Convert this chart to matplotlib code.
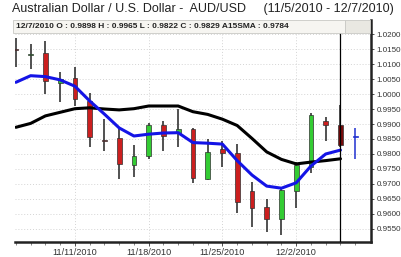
import matplotlib
matplotlib.use("Agg")
import matplotlib.pyplot as plt
from matplotlib.patches import Rectangle

plt.rcParams["font.family"] = ["Liberation Sans", "DejaVu Sans"]

# trading days shown on the chart
dates = ["11/5", "11/8", "11/9", "11/10", "11/11", "11/12", "11/15", "11/16",
         "11/17", "11/18", "11/19", "11/22", "11/23", "11/24", "11/25", "11/26",
         "11/29", "11/30", "12/1", "12/2", "12/3", "12/6", "12/7", "12/8"]
opens = [1.0150, 1.0130, 1.0136, 1.0036, 1.0052, 0.9977, 0.9846, 0.9852,
         0.9763, 0.9793, 0.9897, 0.9871, 0.9882, 0.9716, 0.9816, 0.9802,
         0.9677, 0.9622, 0.9582, 0.9678, 0.9758, 0.9911, 0.9898, 0.9860]
highs = [1.0187, 1.0167, 1.0177, 1.0072, 1.0089, 1.0002, 0.9916, 0.9886,
         0.9830, 0.9904, 0.9911, 0.9950, 0.9888, 0.9849, 0.9844, 0.9833,
         0.9708, 0.9650, 0.9686, 0.9773, 0.9936, 0.9924, 0.9965, 0.9886]
lows = [1.0090, 1.0082, 0.9999, 0.9974, 0.9960, 0.9823, 0.9811, 0.9716,
        0.9722, 0.9782, 0.9811, 0.9822, 0.9704, 0.9713, 0.9756, 0.9602,
        0.9556, 0.9539, 0.9530, 0.9619, 0.9736, 0.9844, 0.9822, 0.9782]
closes = [1.0146, 1.0131, 1.0044, 1.0049, 0.9982, 0.9858, 0.9843, 0.9767,
          0.9793, 0.9897, 0.9860, 0.9882, 0.9719, 0.9808, 0.9802, 0.9641,
          0.9621, 0.9583, 0.9680, 0.9763, 0.9930, 0.9897, 0.9829, 0.9858]

# moving averages (through 12/7)
fast_ma = [1.0039, 1.0061, 1.0058, 1.0047, 1.0026, 0.9977, 0.9933, 0.9887,
           0.9860, 0.9866, 0.9870, 0.9871, 0.9838, 0.9836, 0.9833, 0.9778,
           0.9730, 0.9693, 0.9686, 0.9704, 0.9760, 0.9800, 0.9813]
sma15 = [0.9889, 0.9902, 0.9927, 0.9939, 0.9951, 0.9954, 0.9950, 0.9947,
         0.9951, 0.9960, 0.9960, 0.9960, 0.9941, 0.9932, 0.9916, 0.9895,
         0.9852, 0.9807, 0.9782, 0.9767, 0.9773, 0.9778, 0.9784]

week_ticks = [4, 9, 14, 19]
week_labels = ["11/11/2010", "11/18/2010", "11/25/2010", "12/2/2010"]
y_ticks = [0.9550 + 0.005 * k for k in range(14)]

W, H = 402, 257
fig = plt.figure(figsize=(W / 100, H / 100), dpi=100)
fig.patch.set_facecolor("white")
ax = fig.add_axes([15 / W, (H - 241.5) / H, (371 - 15) / W, (241.5 - 20) / H])
ax.set_xlim(-0.06, 24.07)
ax.set_ylim(0.95083, 1.02467)

# grid
for v in y_ticks:
    ax.axhline(v, color="#d4d4d4", lw=0.7, ls=(0, (1, 2)), zorder=0)
for t in week_ticks:
    ax.axvline(t, color="#d4d4d4", lw=0.7, ls=(0, (1, 2)), zorder=0)

# candles
bw = 0.32
for i, (o, h, l, c) in enumerate(zip(opens, highs, lows, closes)):
    if i == len(dates) - 1:
        col, wick = "#2030d0", "#2030d0"
    elif i == 22:
        col, wick = "#7a0a0a", "#222222"
    elif c >= o:
        col, wick = "#33cc33", "#222222"
    else:
        col, wick = "#cc1f1f", "#222222"
    ax.vlines(i, l, h, color=wick, lw=1.1, zorder=2)
    body = max(abs(c - o), 0.00025)
    ax.bar(i, body, bottom=min(o, c), width=bw, color=col,
           edgecolor="#303030" if i < 23 else col, lw=0.5, zorder=3)

xs = list(range(len(sma15)))
ax.plot(xs, sma15, color="black", lw=2.2, zorder=4, solid_capstyle="round")
ax.plot(xs, fast_ma, color="#1414e6", lw=2.2, zorder=5, solid_capstyle="round")

# crosshair on 12/7
ax.plot([22, 22], [0.95083, 1.0203], color="black", lw=0.9, zorder=6)

# axes styling
for s in ["left", "top"]:
    ax.spines[s].set_visible(False)
ax.spines["right"].set_linewidth(1.8)
ax.spines["bottom"].set_linewidth(1.8)
ax.spines["right"].set_color("#222222")
ax.spines["bottom"].set_color("#222222")
ax.yaxis.tick_right()
ax.set_yticks(y_ticks)
ax.set_yticklabels([f"{v:.4f}" for v in y_ticks])
ax.tick_params(axis="y", length=2, width=0.6, pad=2, labelsize=5.8,
               labelcolor="#333333", colors="#333333")
ax.set_xticks(week_ticks)
ax.set_xticklabels(week_labels)
ax.set_xticks(range(len(dates)), minor=True)
ax.tick_params(axis="x", which="major", length=3, width=0.6, pad=2,
               labelsize=6.6, labelcolor="#333333", colors="#333333")
ax.tick_params(axis="x", which="minor", length=2, width=0.5, colors="#555555")

# title and info bar
fig.text(12 / W, 1 - 9 / H, "Australian Dollar / U.S. Dollar -  AUD/USD     (11/5/2010 - 12/7/2010)",
         fontsize=9.0, color="#222222", va="center", ha="left")
fig.patches.append(Rectangle((13 / W, 1 - 33 / H), (345 - 13) / W, 13 / H,
                             transform=fig.transFigure, facecolor="#f6f5f1",
                             edgecolor="#c8c8c4", lw=0.6, zorder=10))
fig.patches.append(Rectangle((345 / W, 1 - 33 / H), (370 - 345) / W, 13 / H,
                             transform=fig.transFigure, facecolor="#e9e8e2",
                             edgecolor="#c8c8c4", lw=0.6, zorder=10))
fig.text(16 / W, 1 - 26.5 / H,
         "12/7/2010 O : 0.9898 H : 0.9965 L : 0.9822 C : 0.9829 A15SMA : 0.9784",
         fontsize=6.0, fontweight="bold", color="#222222", va="center", ha="left",
         zorder=11)

fig.savefig("out.png", dpi=100)
